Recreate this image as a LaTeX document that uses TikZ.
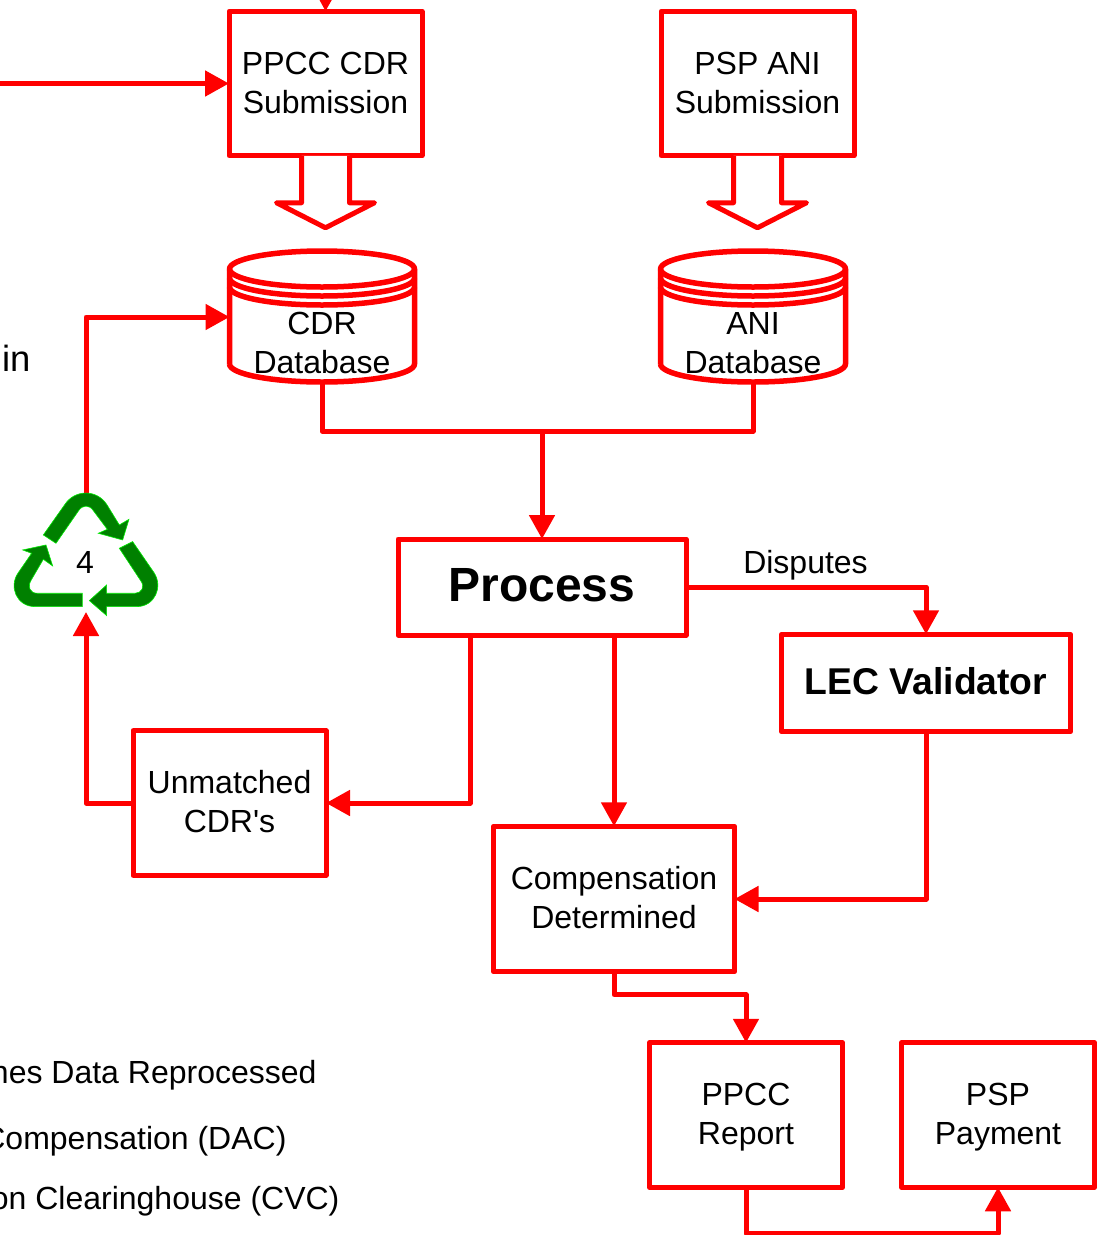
\documentclass[tikz,border=0pt]{standalone}
\usepackage{fontspec}
\setmainfont{Liberation Sans}
\newfontfamily\straightfont{Liberation Sans}
\usetikzlibrary{arrows.meta}
\definecolor{recgreen}{RGB}{0,128,0}
\definecolor{recedge}{RGB}{0,235,0}
\newcommand{\twolines}[2]{\raisebox{-2.2pt}[\height][\depth]{\begin{tabular}{@{}c@{}}#1\\#2\end{tabular}}}
\newcommand{\liftup}[1]{\raisebox{2pt}[\height][\depth]{#1}}
\tikzset{
  base/.style={font=\fontsize{32}{39}\selectfont, inner sep=0pt, outer sep=0pt, align=center},
  procbox/.style={base, draw=red, line width=5pt, line join=round, minimum width=#1},
  procbox/.default=193pt,
  tall/.style={procbox=193pt, minimum height=144.5pt},
  dbnode/.style={base, minimum width=185pt, minimum height=132pt},
  lbl/.style={base},
  legend/.style={base, anchor=base east},
  conn/.style={draw=red, line width=5pt, line join=round, -{Triangle[length=24pt,width=25pt]}},
  plainline/.style={draw=red, line width=5pt, line join=round},
  hollowarrow/.style={draw=red, line width=5pt, line join=round, fill=white},
  recyc/.style={fill=recgreen, draw=recedge, line width=.6pt, line join=miter}
}
\newcommand{\dbshape}[1]{%
  \draw[plainline,line width=5.5pt]
    ([xshift=-92.5pt,yshift=-47pt]#1.center) -- ([xshift=-92.5pt,yshift=48pt]#1.center)
    arc[start angle=180,end angle=0,x radius=92.5pt,y radius=18pt]
    -- ([xshift=92.5pt,yshift=-47pt]#1.center)
    arc[start angle=0,end angle=-180,x radius=92.5pt,y radius=18pt];
  \foreach \dy in {48,39,30}
    \draw[plainline,line width=5.5pt] ([xshift=-92.5pt,yshift=\dy pt]#1.center)
      arc[start angle=180,end angle=360,x radius=92.5pt,y radius=18pt];
}
\newcommand{\blockarrow}[1]{%
  \draw[hollowarrow] ([xshift=-24pt]#1.south) -- ([xshift=-24pt,yshift=-47pt]#1.south)
    -- ([xshift=-49pt,yshift=-47pt]#1.south) -- ([yshift=-72pt]#1.south)
    -- ([xshift=49pt,yshift=-47pt]#1.south) -- ([xshift=24pt,yshift=-47pt]#1.south)
    -- ([xshift=24pt]#1.south);
}
\begin{document}
\begin{tikzpicture}[x=1pt,y=-1pt]
\useasboundingbox (0,0) rectangle (1106,1235);
\clip (0,0) rectangle (1106,1235);

% boxes
\node[tall] (ppcc) at (325.5,83.5) {\twolines{PPCC CDR}{Submission}};
\node[tall] (psp) at (757.5,83.5) {\twolines{PSP ANI}{Submission}};
\node[dbnode] (cdr) at (322,317) {};
\node[dbnode] (ani) at (753,317) {};
\node[lbl] (cdrlabel) at (322,343) {CDR\\Database};
\node[lbl] (anilabel) at (753,343) {ANI\\Database};
\node[procbox=288pt, minimum height=96pt, font=\fontsize{48}{50}\selectfont\bfseries] (process) at (542,587) {\liftup{Process}};
\node[procbox=289pt, minimum height=97.5pt, font=\fontsize{37.3}{40}\selectfont\bfseries] (lec) at (926,683) {\liftup{LEC Validator}};
\node[tall] (unmatched) at (229.5,803) {\twolines{Unmatched}{CDR{\straightfont 's}}};
\node[procbox=241pt, minimum height=145.5pt] (comp) at (614,899) {\twolines{Compensation}{Determined}};
\node[tall] (report) at (746,1115) {\twolines{PPCC}{Report}};
\node[tall] (payment) at (998,1115) {\twolines{PSP}{Payment}};

% free ends and junctions
\coordinate (topin) at (326,-40);
\coordinate (leftin) at (-20,83.5);
\coordinate (rectop) at (86,495);
\coordinate (recbot) at (86,612);
\coordinate (merge) at (542,431);

% databases and block arrows
\dbshape{cdr}
\dbshape{ani}
\blockarrow{ppcc}
\blockarrow{psp}

% connectors
\draw[conn] (topin) -- (ppcc.north);
\draw[conn] (leftin) -- (ppcc.west);
\draw[conn] (rectop) |- (cdr.west);
\draw[plainline] (cdr.south) -- ++(0,48) -| (ani.south);
\draw[conn] (merge) -- (process.north);
\draw[conn] (process.east) -| (lec.north);
\draw[conn] ([xshift=-72pt]process.south) |- (unmatched.east);
\draw[conn] ([xshift=72pt]process.south) -- (comp.north);
\draw[conn] (lec.south) |- (comp.east);
\draw[conn] (comp.south) -- ++(0,23) -| (report.north);
\draw[conn] (report.south) -- ++(0,46) -| (payment.south);
\draw[conn] (unmatched.west) -| (recbot);

% recycling symbol
\begin{scope}[x=0.3333pt,y=-0.3333pt,shift={(0,1410)}]
\path[recyc] (130,195) -- (195,103) .. controls (225,58) and (290,58) .. (320,103) -- (358,165) -- (387,148) -- (368,210) -- (295,190) -- (322,178) -- (280,122) .. controls (268,104) and (248,104) .. (236,122) -- (168,220) -- cycle;
\path[recyc] (398,215) -- (462,308) .. controls (490,350) and (465,410) .. (410,410) -- (320,410) -- (320,437) -- (268,392) -- (320,345) -- (320,370) -- (405,370) .. controls (425,370) and (436,350) .. (422,332) -- (358,235) -- cycle;
\path[recyc] (247,370) -- (247,410) -- (105,410) .. controls (50,410) and (25,350) .. (55,308) -- (95,250) -- (68,240) -- (138,225) -- (158,288) -- (130,268) -- (95,328) .. controls (80,350) and (90,370) .. (112,370) -- cycle;
\end{scope}
\node[lbl] (four) at (85,562) {4};

% other text
\node[lbl] (disputes) at (805.5,565) {Disputes};
\node[lbl,anchor=base west,font=\fontsize{36.4}{40}\selectfont] (intext) at (2,371) {in};
\node[legend] (leg1) at (316.5,1083) {nes Data Reprocessed};
\node[legend] (leg2) at (286.5,1149) {Compensation (DAC)};
\node[legend] (leg3) at (339.5,1209) {on Clearinghouse (CVC)};
\end{tikzpicture}
\end{document}
